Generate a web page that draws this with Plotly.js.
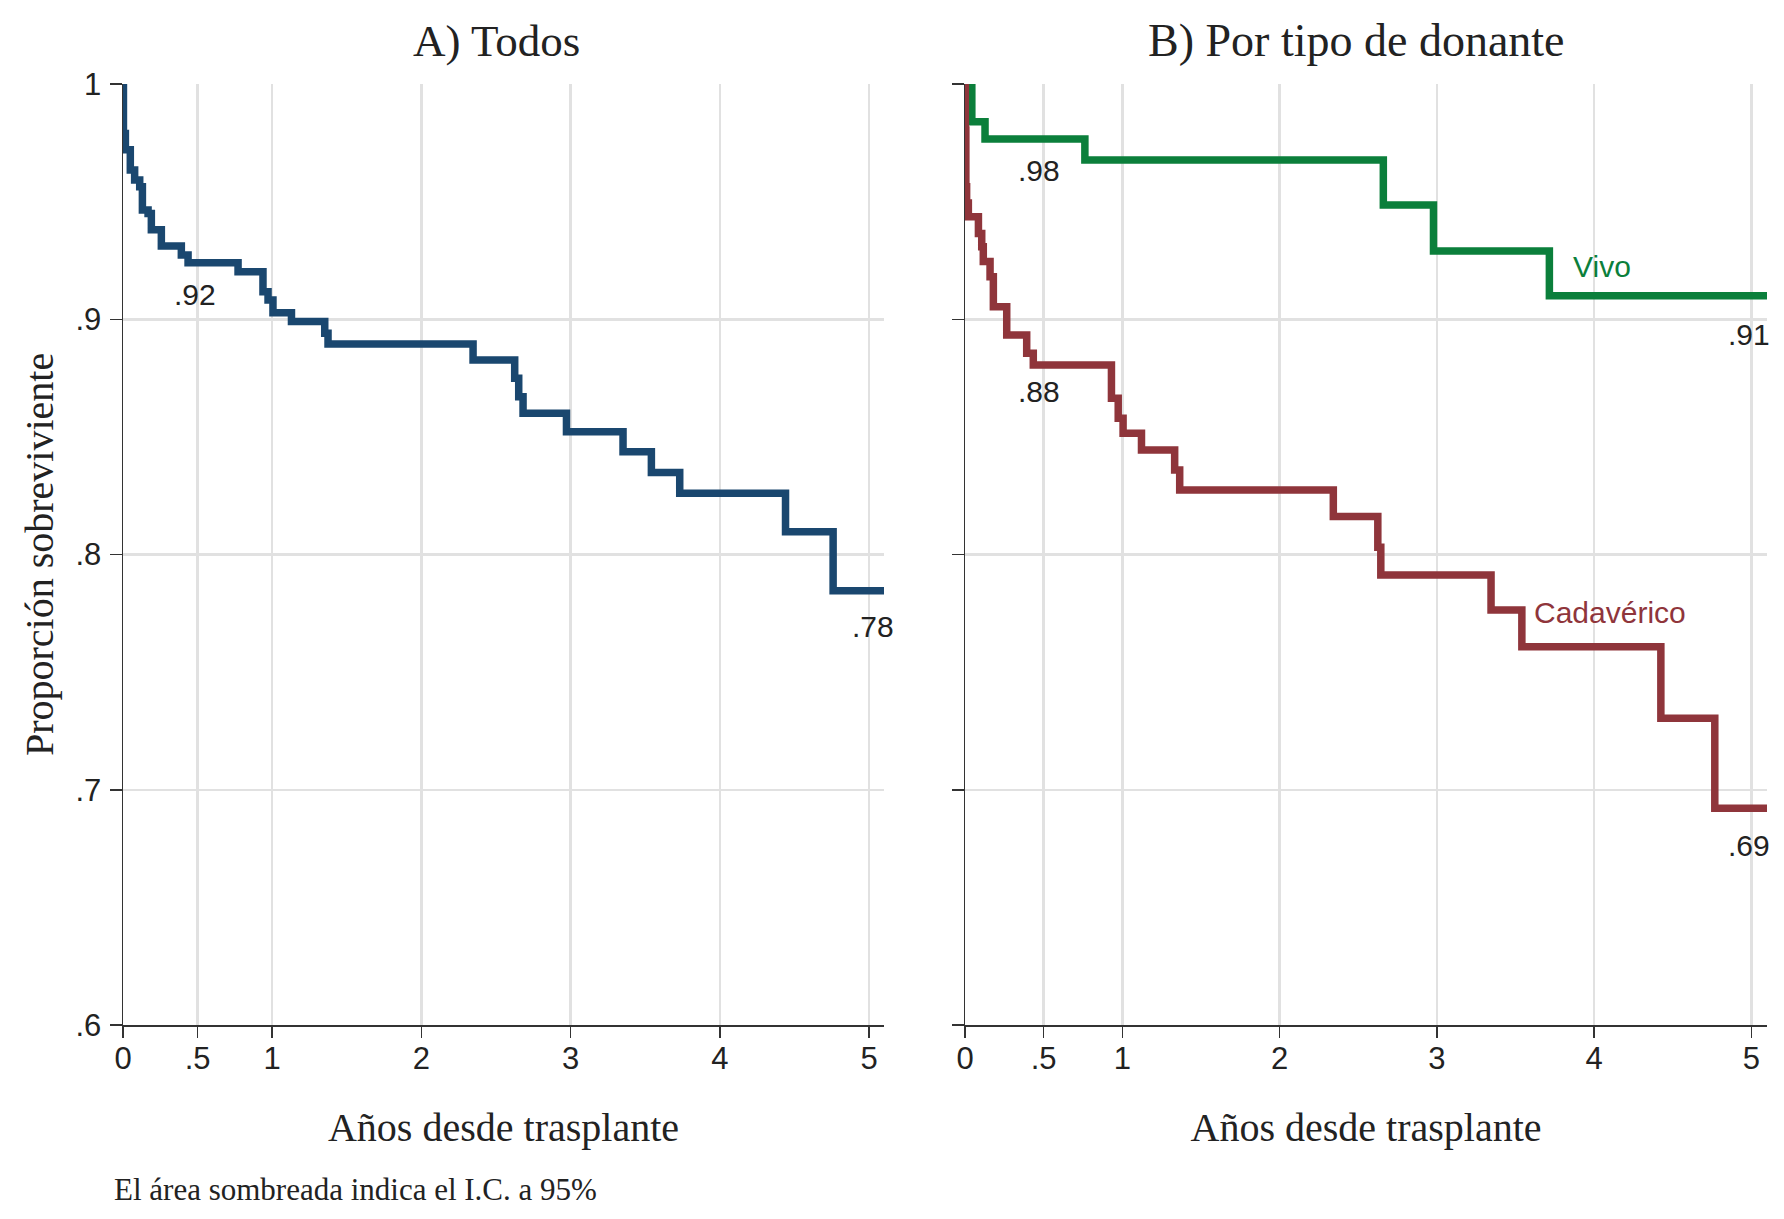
<!DOCTYPE html>
<html>
<head>
<meta charset="utf-8">
<script src="https://cdn.plot.ly/plotly-3.0.1.min.js"></script>
<style>
  html, body { margin: 0; padding: 0; background: #fff; }
  #chart { width: 1784px; height: 1219px; }
</style>
</head>
<body>
<div id="chart"></div>
<script>
// Kaplan-Meier, años desde trasplante
const todosT = [0, 0.003, 0.016, 0.049, 0.078, 0.112, 0.13, 0.168, 0.19, 0.257, 0.391, 0.436,
  0.771, 0.938, 0.972, 1.005, 1.129, 1.352, 1.374, 2.346, 2.625, 2.652, 2.681, 2.972,
  3.351, 3.541, 3.731, 4.44, 4.759, 5.1];
const todosS = [1, 0.979, 0.972, 0.9634, 0.9592, 0.9563, 0.9464, 0.945, 0.938, 0.9311, 0.9273, 0.924,
  0.9202, 0.9117, 0.9082, 0.9028, 0.899, 0.894, 0.8895, 0.8827, 0.8749, 0.8671, 0.86, 0.8522,
  0.8437, 0.8349, 0.826, 0.8097, 0.7846, 0.7846];

const vivoT = [0, 0.043, 0.127, 0.762, 2.66, 2.979, 3.716, 5.1];
const vivoS = [1, 0.984, 0.9766, 0.9677, 0.9486, 0.929, 0.91, 0.91];

const cadT = [0, 0.002, 0.005, 0.01, 0.021, 0.085, 0.106, 0.116, 0.159, 0.18, 0.265, 0.392, 0.434,
  0.931, 0.974, 1.005, 1.122, 1.333, 1.365, 2.342, 2.625, 2.644, 3.345, 3.541, 4.425, 4.768, 5.1];
const cadS = [1, 0.9804, 0.9563, 0.9494, 0.9436, 0.9365, 0.9308, 0.9245, 0.9181, 0.9053, 0.8933, 0.8855, 0.8806,
  0.8664, 0.8579, 0.8515, 0.8444, 0.8359, 0.8274, 0.8161, 0.8031, 0.7913, 0.7764, 0.7608, 0.7304, 0.6921, 0.6921];

const xTickVals = [0, 0.5, 1, 2, 3, 4, 5];
const xTickText = ['0', '.5', '1', '2', '3', '4', '5'];
const yTickVals = [0.6, 0.7, 0.8, 0.9, 1];
const yTickText = ['.6', '.7', '.8', '.9', '1'];

const panelTitles = ['A) Todos', 'B) Por tipo de donante'];
const seriesNames = ['Todos', 'Vivo', 'Cadavérico'];
const valueLabels = ['.92', '.78', '.98', '.88', '.91', '.69'];

const BLUE = '#1a476f', GREEN = '#0b7f3b', RED = '#8f353b';
const SANS = 'Liberation Sans, Arial, sans-serif';
const SERIF = 'Liberation Serif, Times New Roman, serif';
const LW = 7.5;

const data = [
    { x: todosT, y: todosS, name: seriesNames[0], xaxis: 'x', yaxis: 'y',
      type: 'scatter', mode: 'lines', line: { shape: 'hv', color: BLUE, width: LW } },
    { x: vivoT, y: vivoS, name: seriesNames[1], xaxis: 'x2', yaxis: 'y2',
      type: 'scatter', mode: 'lines', line: { shape: 'hv', color: GREEN, width: LW } },
    { x: cadT, y: cadS, name: seriesNames[2], xaxis: 'x2', yaxis: 'y2',
      type: 'scatter', mode: 'lines', line: { shape: 'hv', color: RED, width: LW } }
];

function xAxis(domain, anchor) {
    return {
        domain: domain, anchor: anchor, range: [0, 5.1],
        tickvals: xTickVals, ticktext: xTickText,
        ticks: 'outside', ticklen: 11, tickwidth: 1.5, tickcolor: '#333',
        ticklabelstandoff: -6,
        showline: true, linecolor: '#333', linewidth: 2,
        showgrid: true, gridcolor: '#e1e1e1', gridwidth: 2.5, zeroline: false,
        tickfont: { family: SANS, size: 31, color: '#222' },
        title: { text: 'Años desde trasplante', standoff: 38,
                 font: { family: SERIF, size: 40, color: '#222' } }
    };
}

function yAxis(anchor, withLabels) {
    return {
        anchor: anchor, range: [0.6, 1.0],
        tickvals: yTickVals, ticktext: withLabels ? yTickText : yTickVals.map(() => ''),
        ticks: 'outside', ticklen: 12, tickwidth: 1.5, tickcolor: '#333',
        ticklabelstandoff: 2,
        showline: true, linecolor: '#333', linewidth: 1.5,
        showgrid: true, gridcolor: '#e1e1e1', gridwidth: 2.5, zeroline: false,
        tickfont: { family: SANS, size: 31, color: '#222' },
        title: withLabels ? { text: 'Proporción sobreviviente', standoff: 9,
                 font: { family: SERIF, size: 40, color: '#222' } } : { text: '' }
    };
}

function label(text, xref, yref, x, y, color) {
    return { text: text, xref: xref, yref: yref, x: x, y: y, showarrow: false,
             xanchor: 'center', yanchor: 'middle',
             font: { family: SANS, size: 30, color: color || '#222' } };
}

const layout = {
    width: 1784, height: 1219,
    margin: { l: 123, r: 17, t: 84, b: 194 },
    paper_bgcolor: '#fff', plot_bgcolor: '#fff',
    showlegend: false,
    xaxis: xAxis([0, 0.4629], 'y'),
    yaxis: yAxis('x', true),
    xaxis2: xAxis([0.5122, 1], 'y2'),
    yaxis2: yAxis('x2', false),
    annotations: [
        { text: panelTitles[0], xref: 'paper', yref: 'paper', x: 0.2269, y: 1.0457,
          xanchor: 'center', yanchor: 'middle', showarrow: false,
          font: { family: SERIF, size: 45, color: '#222' } },
        { text: panelTitles[1], xref: 'paper', yref: 'paper', x: 0.7506, y: 1.0457,
          xanchor: 'center', yanchor: 'middle', showarrow: false,
          font: { family: SERIF, size: 46, color: '#222' } },
        label(valueLabels[0], 'x', 'y', 0.48, 0.9107),
        label(valueLabels[1], 'x', 'y', 5.025, 0.7696),
        label(valueLabels[2], 'x2', 'y2', 0.47, 0.9634),
        label(valueLabels[3], 'x2', 'y2', 0.47, 0.8692),
        label(valueLabels[4], 'x2', 'y2', 4.984, 0.8937),
        label(valueLabels[5], 'x2', 'y2', 4.984, 0.6765),
        label(seriesNames[1], 'x2', 'y2', 4.051, 0.9223, GREEN),
        label(seriesNames[2], 'x2', 'y2', 4.10, 0.7753, RED),
        { text: 'El área sombreada indica el I.C. a 95%', xref: 'paper', yref: 'paper',
          x: -0.0067, y: -0.1753, xanchor: 'left', yanchor: 'middle', showarrow: false,
          font: { family: SERIF, size: 31, color: '#222' } }
    ]
};

Plotly.newPlot('chart', data, layout, { staticPlot: true, displayModeBar: false });
</script>
</body>
</html>
